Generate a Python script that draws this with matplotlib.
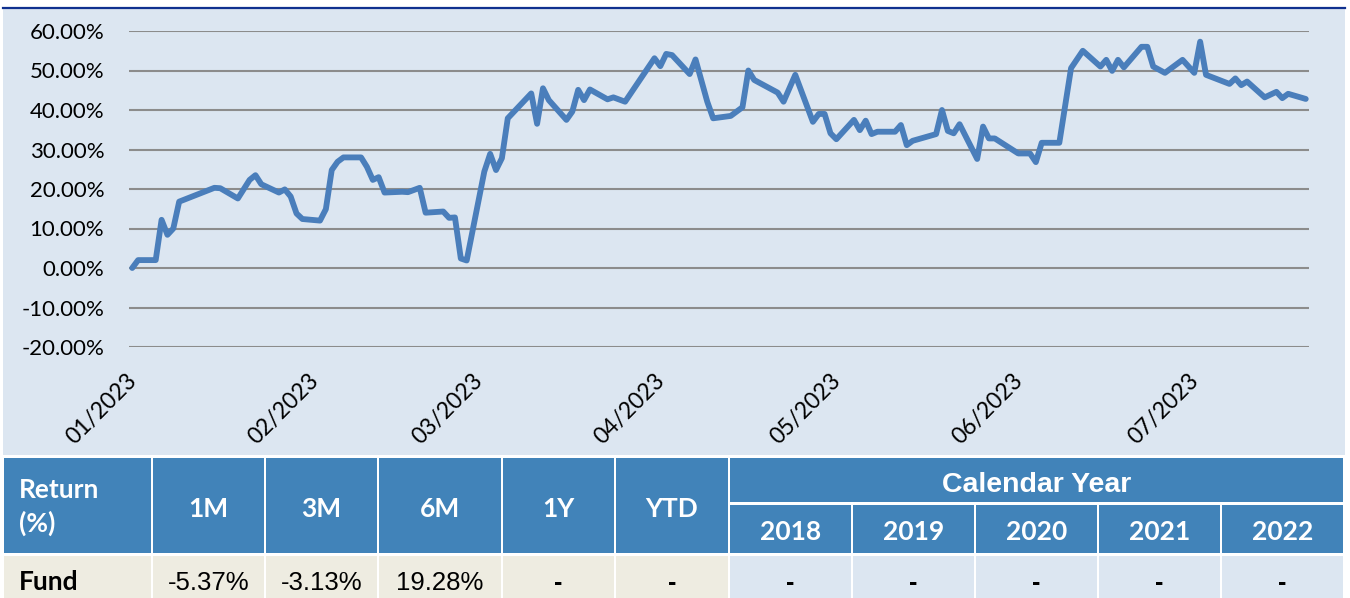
import matplotlib
matplotlib.use("Agg")
import matplotlib.pyplot as plt
import matplotlib.dates as mdates
import matplotlib.transforms as mtransforms
from matplotlib.patches import Rectangle
from matplotlib.lines import Line2D
from matplotlib.ticker import FuncFormatter
import pandas as pd

# cumulative fund return, days counted from 2023-01-01
start = pd.Timestamp("2023-01-01")
days = [0, 1, 4, 5, 6, 7, 8, 14, 15, 18, 20, 21, 22, 25, 26, 27, 28, 29, 32, 33,
        34, 35, 36, 39, 40, 41, 42, 43, 46, 47, 49, 50, 53, 54, 55, 56, 57, 60, 61, 62,
        63, 64, 68, 69, 70, 71, 74, 75, 76, 77, 78, 81, 82, 84, 89, 90, 91, 92, 95, 96,
        98, 99, 102, 103, 104, 105, 106, 110, 111, 113, 116, 117, 118, 119, 120, 123, 124, 125, 126, 127,
        130, 131, 132, 133, 137, 138, 139, 140, 141, 144, 145, 146, 147, 151, 153, 154, 155, 158, 160, 162,
        165, 166, 167, 168, 169, 172, 173, 174, 176, 179, 181, 182, 183, 187, 188, 189, 190, 193, 195, 196,
        197, 200]
returns = [0.0, 2.0, 2.0, 12.2, 8.4, 10.0, 16.8, 20.3, 20.2, 17.6, 22.3, 23.5, 21.2, 19.1, 19.9, 18.1, 13.8, 12.4, 12.0, 14.9,
           24.8, 26.9, 28.0, 28.0, 25.6, 22.3, 23.0, 19.1, 19.3, 19.2, 20.3, 14.0, 14.3, 12.7, 12.8, 2.4, 1.9, 24.4, 28.9, 24.8,
           27.8, 37.9, 44.2, 36.5, 45.5, 42.5, 37.5, 39.6, 45.1, 42.5, 45.2, 42.7, 43.2, 42.1, 53.1, 51.1, 54.2, 53.9, 49.1, 52.8,
           42.1, 37.9, 38.5, 39.6, 40.7, 50.0, 47.6, 44.4, 42.1, 48.9, 37.0, 39.0, 39.0, 34.1, 32.6, 37.5, 34.9, 37.3, 33.9, 34.5,
           34.5, 36.2, 31.1, 32.2, 33.9, 40.0, 34.7, 34.1, 36.4, 27.6, 35.8, 32.8, 32.8, 29.0, 29.0, 26.8, 31.7, 31.7, 50.6, 55.0,
           51.0, 52.7, 49.9, 52.7, 50.8, 56.0, 56.0, 51.0, 49.4, 52.7, 49.4, 57.3, 48.9, 46.6, 48.0, 46.3, 47.2, 43.2, 44.6, 43.0,
           44.1, 42.8]
y_ticks = [-20, -10, 0, 10, 20, 30, 40, 50, 60]

periods = ["1M", "3M", "6M", "1Y", "YTD"]
period_returns = ["-5.37%", "-3.13%", "19.28%", "-", "-"]
years = ["2018", "2019", "2020", "2021", "2022"]
year_returns = ["-", "-", "-", "-", "-"]

W, H = 1350, 598
fig = plt.figure(figsize=(W / 100, H / 100), dpi=100)
fig.patch.set_facecolor("white")


def box(x0, y0, x1, y1, color):
    # rectangle given in pixel coordinates from the top left
    fig.patches.append(Rectangle((x0 / W, 1 - y1 / H), (x1 - x0) / W, (y1 - y0) / H,
                                 transform=fig.transFigure, facecolor=color,
                                 edgecolor="none", zorder=-10))


def label(x, y, s, **kw):
    fig.text(x / W, 1 - y / H, s, **kw)


# chart background and top rule
box(3, 8, 1345, 455, "#DCE6F1")
fig.lines.append(Line2D([3 / W, 1345 / W], [1 - 7.5 / H, 1 - 7.5 / H],
                        transform=fig.transFigure, color="#10318F", lw=1.6, zorder=-5))

ax = fig.add_axes([129.3 / W, 1 - 347 / H, (1308.7 - 129.3) / W, (347 - 31) / H])
ax.set_facecolor("none")
for s in ax.spines.values():
    s.set_visible(False)

dates = start + pd.to_timedelta(days, unit="D")
ax.plot(dates, returns, color="#4A7EBB", lw=4.2, solid_joinstyle="round",
        solid_capstyle="round", zorder=3)

ax.set_ylim(-20, 60)
ax.set_yticks(y_ticks)
ax.yaxis.set_major_formatter(FuncFormatter(lambda v, p: f"{v:.2f}%"))
ax.grid(axis="y", color="#8C8C8C", lw=1.5)
ax.set_axisbelow(True)

ax.set_xlim(start - pd.Timedelta(days=0.5), start + pd.Timedelta(days=200.5))
ax.xaxis.set_major_locator(mdates.MonthLocator())
ax.xaxis.set_major_formatter(mdates.DateFormatter("%m/%Y"))
ax.tick_params(axis="y", length=0, pad=18, labelsize=16)
ax.tick_params(axis="x", length=0, pad=22, labelsize=16.5)
for t in ax.get_yticklabels():
    t.set_fontfamily("Lato")
offset = mtransforms.ScaledTranslation(1 / 100, 0, fig.dpi_scale_trans)
for t in ax.get_xticklabels():
    t.set_fontfamily("Lato")
    t.set_rotation(45)
    t.set_ha("right")
    t.set_va("center")
    t.set_rotation_mode("anchor")
    t.set_transform(t.get_transform() + offset)

# returns table
head = "#4183B9"
beige = "#EEECE1"
pale = "#DCE6F1"
hfont = dict(color="white", fontsize=19, fontweight="bold", family="Lato")

box(4, 458, 151, 553, head)
label(19, 498, "Return", ha="left", va="baseline", **hfont)
label(19, 532, "(%)", ha="left", va="baseline", **hfont)
box(4, 556, 151, 598, beige)
label(19, 590, "Fund", ha="left", va="baseline", color="black", fontsize=19,
      fontweight="bold", family="Lato")

period_cols = [(153, 264), (266, 377), (379, 501), (503, 614), (616, 728)]
for (x0, x1), name, val in zip(period_cols, periods, period_returns):
    box(x0, 458, x1, 553, head)
    label((x0 + x1) / 2, 517, name, ha="center", va="baseline", **hfont)
    box(x0, 556, x1, 598, beige)
    if val == "-":
        label((x0 + x1) / 2, 590, val, ha="center", va="baseline", fontsize=18,
              fontweight="bold", family="Liberation Sans")
    else:
        label((x0 + x1) / 2, 590, val, ha="center", va="baseline", fontsize=18.5,
              family="Liberation Sans")

box(730, 458, 1343, 502, head)
label(1036.5, 492, "Calendar Year", ha="center", va="baseline", color="white",
      fontsize=20.5, fontweight="bold", family="Liberation Sans")
year_cols = [(730, 851), (853, 974), (976, 1097), (1099, 1220), (1222, 1343)]
for (x0, x1), yr, val in zip(year_cols, years, year_returns):
    box(x0, 505, x1, 553, head)
    label((x0 + x1) / 2, 540, yr, ha="center", va="baseline", **hfont)
    box(x0, 556, x1, 598, pale)
    label((x0 + x1) / 2, 590, val, ha="center", va="baseline", fontsize=18,
          fontweight="bold", family="Liberation Sans")

fig.savefig("out.png", dpi=100)
